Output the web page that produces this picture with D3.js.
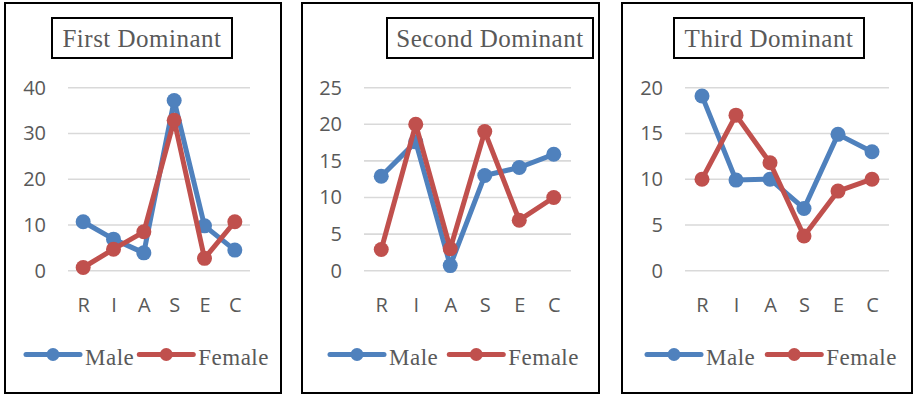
<!DOCTYPE html>
<html>
<head>
<meta charset="utf-8">
<script src="https://cdn.jsdelivr.net/npm/d3@7"></script>
<style>
  html, body { margin: 0; padding: 0; background: #fff; }
  svg { display: block; }
</style>
</head>
<body>
<svg id="chart" width="915" height="395"></svg>
<script>
// ---- data ----
const categories = ["R", "I", "A", "S", "E", "C"];
const seriesNames = ["Male", "Female"];
const panelTitles = ["First Dominant", "Second Dominant", "Third Dominant"];

const maleFirst = [10.7, 6.9, 3.9, 37.2, 9.8, 4.5];
const femaleFirst = [0.7, 4.7, 8.5, 32.9, 2.7, 10.7];
const maleSecond = [12.9, 17.6, 0.7, 13.0, 14.1, 15.9];
const femaleSecond = [2.9, 20.0, 3.0, 19.0, 6.9, 10.0];
const maleThird = [19.1, 9.9, 10.0, 6.8, 14.9, 13.0];
const femaleThird = [10.0, 17.0, 11.8, 3.8, 8.7, 10.0];

const yTicksFirst = [0, 10, 20, 30, 40];
const yTicksSecond = [0, 5, 10, 15, 20, 25];
const yTicksThird = [0, 5, 10, 15, 20];

// ---- layout (positions / styles only) ----
const colors = ["#4F81BD", "#C0504D"];
const textGray = "#595959";
const layout = [
  { box: [5, 3, 281, 393], title: [52, 18, 232, 58], plotX: [68, 250], legendX: 26, legendGap: 5 },
  { box: [302, 3, 599, 393], title: [387, 18, 593, 58], plotX: [364, 571], legendX: 330, legendGap: 11 },
  { box: [622, 3, 912, 393], title: [674, 18, 864, 58], plotX: [685, 889], legendX: 647, legendGap: 12 }
];
const plotY = [270.7, 87.7];

const panels = [
  { title: panelTitles[0], values: [maleFirst, femaleFirst], ticks: yTicksFirst },
  { title: panelTitles[1], values: [maleSecond, femaleSecond], ticks: yTicksSecond },
  { title: panelTitles[2], values: [maleThird, femaleThird], ticks: yTicksThird }
];

const svg = d3.select("#chart");

panels.forEach((p, i) => {
  const L = layout[i];
  const g = svg.append("g");

  // panel border
  g.append("rect")
    .attr("x", L.box[0]).attr("y", L.box[1])
    .attr("width", L.box[2] - L.box[0]).attr("height", L.box[3] - L.box[1])
    .attr("fill", "#fff").attr("stroke", "#000").attr("stroke-width", 2);

  // title box
  g.append("rect")
    .attr("x", L.title[0]).attr("y", L.title[1])
    .attr("width", L.title[2] - L.title[0]).attr("height", L.title[3] - L.title[1])
    .attr("fill", "#fff").attr("stroke", "#000").attr("stroke-width", 2);
  g.append("text")
    .attr("x", (L.title[0] + L.title[2]) / 2)
    .attr("y", 47)
    .attr("text-anchor", "middle")
    .attr("font-family", "'Liberation Serif', 'Times New Roman', serif")
    .attr("font-size", 25)
    .attr("letter-spacing", 0.5)
    .attr("fill", textGray)
    .text(p.title);

  const x = d3.scalePoint().domain(categories).range(L.plotX).padding(0.5);
  const y = d3.scaleLinear().domain([0, d3.max(p.ticks)]).range(plotY);

  // gridlines
  g.append("g").selectAll("line").data(p.ticks).join("line")
    .attr("x1", L.plotX[0]).attr("x2", L.plotX[1])
    .attr("y1", d => y(d)).attr("y2", d => y(d))
    .attr("stroke", "#D9D9D9").attr("stroke-width", 1.6);

  // y axis labels
  const yAxis = d3.axisLeft(y).tickValues(p.ticks).tickSize(0).tickPadding(22);
  const ya = g.append("g").attr("transform", `translate(${L.plotX[0]},0)`).call(yAxis);
  ya.select(".domain").remove();
  ya.selectAll("text")
    .attr("font-family", "'Open Sans', sans-serif")
    .attr("font-size", 20)
    .attr("fill", textGray);

  // x axis labels
  const xAxis = d3.axisBottom(x).tickSize(0).tickPadding(0);
  const xa = g.append("g").attr("transform", `translate(0,${plotY[0]})`).call(xAxis);
  xa.select(".domain").remove();
  xa.selectAll("text")
    .attr("y", 41.5)
    .attr("dy", 0)
    .attr("font-family", "'Open Sans', sans-serif")
    .attr("font-size", 20)
    .attr("fill", textGray);

  // series
  const line = d3.line().x((d, j) => x(categories[j])).y(d => y(d));
  p.values.forEach((vals, s) => {
    const sg = g.append("g");
    sg.append("path")
      .datum(vals)
      .attr("d", line)
      .attr("fill", "none")
      .attr("stroke", colors[s])
      .attr("stroke-width", 5)
      .attr("stroke-linejoin", "round")
      .attr("stroke-linecap", "round");
    sg.selectAll("circle").data(vals).join("circle")
      .attr("cx", (d, j) => x(categories[j]))
      .attr("cy", d => y(d))
      .attr("r", 7.5)
      .attr("fill", colors[s]);
  });

  // legend
  let lx = L.legendX;
  const ly = 354.5;
  seriesNames.forEach((name, s) => {
    const lg = g.append("g");
    lg.append("line")
      .attr("x1", lx).attr("x2", lx + 54)
      .attr("y1", ly).attr("y2", ly)
      .attr("stroke", colors[s]).attr("stroke-width", 5)
      .attr("stroke-linecap", "round");
    lg.append("circle")
      .attr("cx", lx + 27).attr("cy", ly).attr("r", 6.5)
      .attr("fill", colors[s]);
    const t = lg.append("text")
      .attr("x", lx + 59)
      .attr("y", 365)
      .attr("font-family", "'Liberation Serif', 'Times New Roman', serif")
      .attr("font-size", 23)
      .attr("letter-spacing", 0.5)
      .attr("fill", textGray)
      .text(name);
    const w = t.node().getComputedTextLength();
    lx = lx + 59 + w + L.legendGap;
  });
});
</script>
</body>
</html>
